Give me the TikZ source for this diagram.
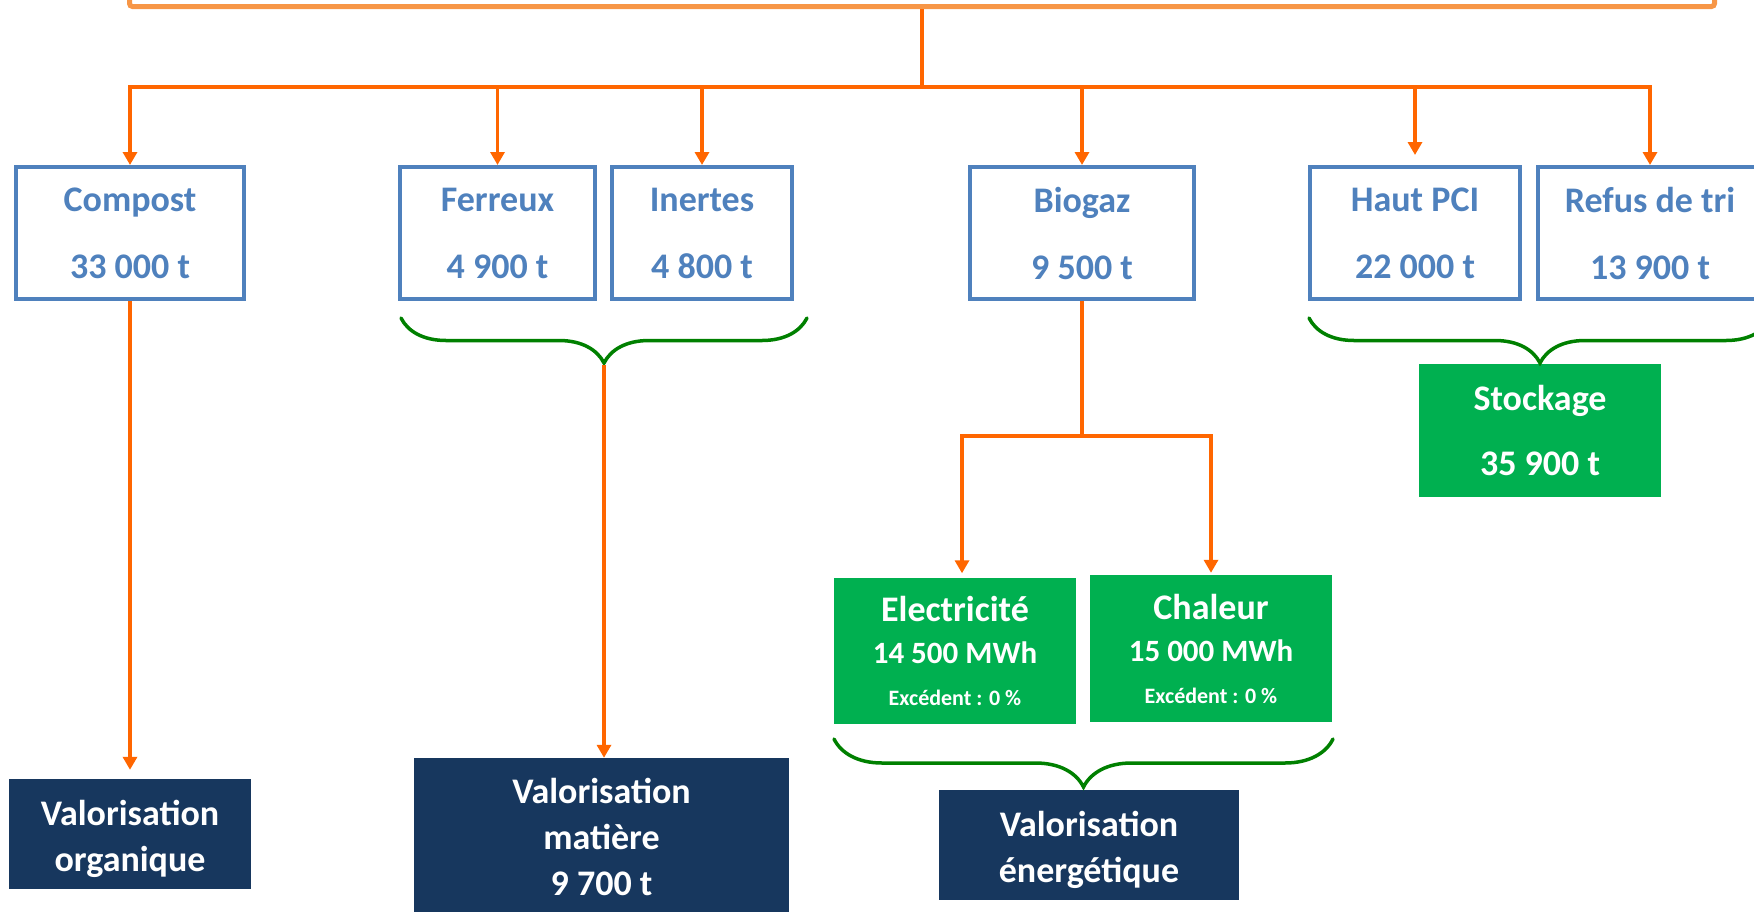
\documentclass[tikz,border=0pt]{standalone}
\usepackage{fontspec}
\setmainfont{Carlito}
\usetikzlibrary{arrows.meta,decorations.pathreplacing}

\definecolor{srcorange}{HTML}{F79646}
\definecolor{linkorange}{HTML}{FF6600}
\definecolor{boxblue}{HTML}{4F81BD}
\definecolor{valgreen}{HTML}{00B050}
\definecolor{navy}{HTML}{17375E}
\definecolor{bracegreen}{HTML}{008000}

\tikzset{%
  % Specifications for style of nodes:
         srcbox/.style = {rectangle, rounded corners=3pt, draw = srcorange, line width=5pt},
         bluebox/.style = {rectangle, draw = boxblue, line width=4pt, minimum height=132pt, inner sep=0pt, text=boxblue, font=\bfseries\fontsize{36}{67}\selectfont},
         greenbox/.style = {rectangle, fill=valgreen, inner sep=0pt, text=white, font=\bfseries\fontsize{36}{42}\selectfont},
         navybox/.style = {rectangle, fill=navy, inner sep=0pt, text=white, font=\bfseries\fontsize{36}{46}\selectfont},
  % Specifications for style of lines:
         link/.style = {draw=linkorange, line width=3.5pt},
         linkarrow/.style = {link, -{Triangle[width=14pt,length=13pt]}},
         bracket/.style = {draw=bracegreen, line width=3.5pt, line cap=round, decorate, decoration={brace, mirror, amplitude=45pt}},
}

\begin{document}
\begin{tikzpicture}[x=1pt, y=-1pt, align=center]
    \useasboundingbox (0,0) rectangle (1754,911);
    \clip (0,0) rectangle (1754,911);

    % Draw nodes
    \node (source)   [srcbox, minimum width=1585pt, minimum height=100pt, anchor=south] at (922,9) {};

    \node (compost)  [bluebox, minimum width=228pt] at (130,233)    {Compost\\33 000 t};
    \node (ferreux)  [bluebox, minimum width=195pt] at (497.5,233)  {Ferreux\\4 900 t};
    \node (inertes)  [bluebox, minimum width=180pt] at (702,233)    {Inertes\\4 800 t};
    \node (biogaz)   [bluebox, minimum width=224pt] at (1082,233)   {Biogaz\\9 500 t};
    \node (hautpci)  [bluebox, minimum width=210pt] at (1415,233)   {Haut PCI\\22 000 t};
    \node (refus)    [bluebox, minimum width=224pt] at (1650,233)   {Refus de tri\\13 900 t};

    \node (stockage) [greenbox, minimum width=242pt, minimum height=133pt, font=\bfseries\fontsize{36}{65}\selectfont] at (1540,430.5) {Stockage\\35 900 t};
    \node (elec)     [greenbox, minimum width=242pt, minimum height=146pt] at (955,650.5)
                     {Electricité\\{\fontsize{31}{31}\selectfont 14 500 MWh}\\{\fontsize{22}{22}\selectfont Excédent : 0 \%}};
    \node (chaleur)  [greenbox, minimum width=242pt, minimum height=147pt] at (1211,648.5)
                     {Chaleur\\{\fontsize{31}{31}\selectfont 15 000 MWh}\\{\fontsize{22}{22}\selectfont Excédent : 0 \%}};

    \node (valorg)   [navybox, minimum width=242pt, minimum height=110pt] at (130,834)   {\rule{0pt}{35pt}Valorisation\\organique};
    \node (valmat)   [navybox, minimum width=375pt, minimum height=158pt] at (601.5,837) {Valorisation\\matière\\9 700 t};
    \node (valener)  [navybox, minimum width=300pt, minimum height=110pt] at (1089,845)  {\rule{0pt}{35pt}Valorisation\\énergétique};

    % Draw arrows
    \draw[link]      (source.south) -- ++(0,78) coordinate (bus);
    \draw[linkarrow] (bus) -| (compost.north);
    \draw[linkarrow] (bus) -| (refus.north);
    \foreach \n in {ferreux,inertes,biogaz}
        \draw[linkarrow] (\n.north |- bus) -- (\n.north);
    \draw[linkarrow] (hautpci.north |- bus) -- ([yshift=10pt]hautpci.north);

    \draw[linkarrow] (compost.south) -- ([yshift=9pt]valorg.north);

    \draw[link]      (biogaz.south) -- ++(0,135) coordinate (split);
    \draw[linkarrow] (split) -| ([xshift=7pt,yshift=4pt]elec.north);
    \draw[linkarrow] (split) -| ([yshift=2pt]chaleur.north);

    % Draw braces
    \draw[bracket] (401,318) -- (807,318);
    \coordinate (mattip) at (604,365);
    \draw[linkarrow] (mattip) -- (mattip |- valmat.north);

    \draw[bracket] (1309,318) -- (1771,318);
    \draw[bracket, decoration={amplitude=48pt}] (834,739) -- (1333,739);

\end{tikzpicture}
\end{document}
